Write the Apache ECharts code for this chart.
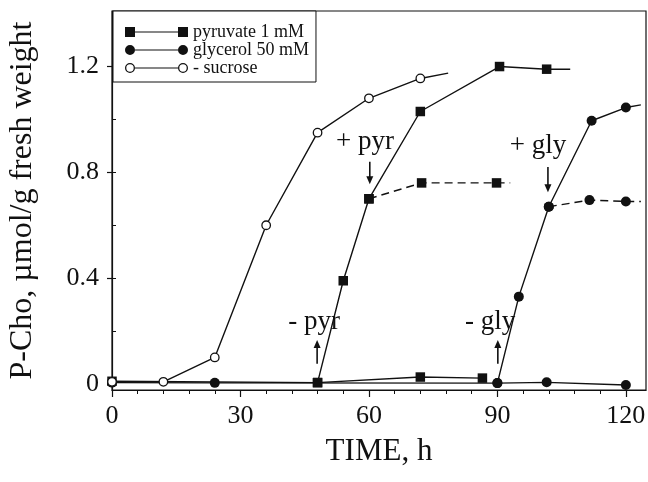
<!DOCTYPE html>
<html>
<head>
<meta charset="utf-8">
<script src="https://cdn.jsdelivr.net/npm/echarts@6/dist/echarts.min.js"></script>
<style>
  html, body { margin: 0; background: #fff; }
  #main { width: 648px; height: 482px; }
</style>
</head>
<body>
<div id="main"></div>
<script>
// ticks
const timeTicks = [0, 30, 60, 90, 120]
const timeMinorTicks = [6, 12, 18, 24, 36, 42, 48, 54, 66, 72, 78, 84, 96, 102, 108, 114]
const pchoTicks = [0, 0.4, 0.8, 1.2]
const pchoMinorTicks = [0.2, 0.4, 0.6, 0.8, 1.0, 1.2]

// series values [time h, P-Cho]
const sucrose = [[0, 0.008], [12, 0.008], [24, 0.10], [36, 0.60], [48, 0.95], [60, 1.08], [72, 1.155]]
const sucroseTail = [78.5, 1.175]
const pyrBase = [[0, 0.01], [48, 0.005], [72, 0.026], [86.5, 0.022]]
const pyrRise = [[48, 0.005], [54, 0.39], [60, 0.70], [72, 1.03], [90.5, 1.20], [101.5, 1.19]]
const pyrRiseTail = [107, 1.19]
const pyrOff = [[60, 0.70], [72.3, 0.76], [89.8, 0.76]]
const pyrOffTail = [93, 0.76]
const glyBase = [[0, 0.005], [24, 0.004], [90, 0.003], [101.5, 0.006], [120, -0.004]]
const glyRise = [[90, 0.003], [95, 0.33], [102, 0.67], [112, 0.995], [120, 1.045]]
const glyRiseTail = [123.5, 1.055]
const glyOff = [[102, 0.67], [111.5, 0.695], [120, 0.69]]
const glyOffTail = [123.5, 0.69]

// annotations (data coords)
const notes = [
  { text: '+ pyr', t: 59.1, v: 0.915 },
  { text: '- pyr', t: 47.2, v: 0.235 },
  { text: '+ gly', t: 99.5, v: 0.90 },
  { text: '- gly', t: 88.3, v: 0.235 }
]
const arrows = [
  { t: 60.2, from: 0.84, to: 0.755 },
  { t: 47.9, from: 0.076, to: 0.166 },
  { t: 101.8, from: 0.82, to: 0.725 },
  { t: 90.1, from: 0.076, to: 0.166 }
]

const serif = '"Liberation Serif", "Times New Roman", serif'
const ink = '#111'

function withTail (pts, tail) {
  let d = pts.slice()
  if (tail) d.push({ value: tail, symbol: 'none' })
  return d
}

function line (name, data, symbol, opts) {
  opts = opts || {}
  return {
    name: name,
    type: 'line',
    data: data,
    symbol: symbol,
    symbolSize: opts.size || 10,
    showSymbol: true,
    animation: false,
    z: opts.z || 2,
    lineStyle: { color: ink, width: 1.4, type: opts.dashed ? [8, 5] : 'solid' },
    itemStyle: opts.open
      ? { color: '#fff', borderColor: ink, borderWidth: 1.3 }
      : { color: ink, borderWidth: 0 }
  }
}

// legend icons: marker - line - marker
const iconSquare = 'path://M0 0h10v10H0z M10 4.4h43v1.2H10z M53 0h10v10H53z'
const iconDot = 'path://M0 5a5 5 0 1 0 10 0a5 5 0 1 0 -10 0z M10 4.4h43v1.2H10z M53 5a5 5 0 1 0 10 0a5 5 0 1 0 -10 0z'
const iconRing = 'path://M0 5a5 5 0 1 0 10 0a5 5 0 1 0 -10 0z M1.3 5a3.7 3.7 0 1 1 7.4 0a3.7 3.7 0 1 1 -7.4 0z M10 4.4h43v1.2H10z M53 5a5 5 0 1 0 10 0a5 5 0 1 0 -10 0z M54.3 5a3.7 3.7 0 1 1 7.4 0a3.7 3.7 0 1 1 -7.4 0z'

let chart = echarts.init(document.getElementById('main'), null, { renderer: 'canvas' })

let axisFont = { fontFamily: serif, fontSize: 26, color: ink }

let option = {
  backgroundColor: '#fff',
  animation: false,
  grid: {
    left: 112, right: 2, top: 11, bottom: 92,
    outerBoundsMode: 'none',
    containLabel: false,
    show: true, borderColor: ink, borderWidth: 1.2, backgroundColor: 'transparent'
  },
  legend: {
    orient: 'vertical',
    left: 113,
    top: 11,
    padding: [12, 7, 5, 12],
    itemWidth: 63,
    itemHeight: 10,
    itemGap: 0,
    borderColor: ink,
    borderWidth: 1,
    backgroundColor: '#fff',
    selectedMode: false,
    textStyle: { fontFamily: serif, fontSize: 18, color: ink },
    data: [
      { name: 'pyruvate 1 mM', icon: iconSquare, itemStyle: { color: ink, borderWidth: 0 } },
      { name: 'glycerol 50 mM', icon: iconDot, itemStyle: { color: ink, borderWidth: 0 } },
      { name: '- sucrose', icon: iconRing, itemStyle: { color: ink, borderWidth: 0 } }
    ]
  },
  xAxis: [{
    type: 'value',
    min: 0,
    max: 124.7,
    name: 'TIME, h',
    nameLocation: 'middle',
    nameGap: 46,
    nameTextStyle: { fontFamily: serif, fontSize: 31, color: ink },
    axisLine: { onZero: false, lineStyle: { color: ink, width: 1.2 } },
    axisTick: { customValues: timeTicks, length: 7, lineStyle: { color: ink, width: 1.2 } },
    axisLabel: Object.assign({ customValues: timeTicks, margin: 13 }, axisFont),
    splitLine: { show: false }
  }, {
    type: 'value',
    min: 0,
    max: 124.7,
    position: 'bottom',
    axisLine: { show: false, onZero: false },
    axisTick: { customValues: timeMinorTicks, length: 4, lineStyle: { color: ink, width: 1 } },
    axisLabel: { show: false },
    splitLine: { show: false }
  }],
  yAxis: [{
    type: 'value',
    min: -0.023,
    max: 1.41,
    name: 'P-Cho, µmol/g fresh weight',
    nameLocation: 'middle',
    nameGap: 65,
    nameTextStyle: { fontFamily: serif, fontSize: 32, color: ink, padding: [0, 0, 8, 0] },
    axisLine: { onZero: false, lineStyle: { color: ink, width: 1.2 } },
    axisTick: { customValues: pchoTicks, length: 5, lineStyle: { color: ink, width: 1.2 } },
    axisLabel: Object.assign({ customValues: pchoTicks, margin: 13,
      formatter: function (v) { return String(Math.round(v * 10) / 10) } }, axisFont),
    splitLine: { show: false }
  }, {
    type: 'value',
    min: -0.023,
    max: 1.41,
    position: 'left',
    axisLine: { show: false, onZero: false },
    axisTick: { inside: true, customValues: pchoMinorTicks, length: 4, lineStyle: { color: ink, width: 1 } },
    axisLabel: { show: false },
    splitLine: { show: false }
  }],
  series: [
    line('glycerol 50 mM', glyBase, 'circle', { size: 10 }),
    line('pyruvate 1 mM', pyrBase, 'rect', { size: 9.5 }),
    line('pyruvate 1 mM', withTail(pyrRise, pyrRiseTail), 'rect', { size: 9.5 }),
    line('pyruvate 1 mM', withTail(pyrOff, pyrOffTail), 'rect', { size: 9.5, dashed: true }),
    line('glycerol 50 mM', withTail(glyRise, glyRiseTail), 'circle', { size: 10 }),
    line('glycerol 50 mM', withTail(glyOff, glyOffTail), 'circle', { size: 10, dashed: true }),
    line('- sucrose', withTail(sucrose, sucroseTail), 'circle', { size: 8.5, open: true, z: 3 })
  ]
}

chart.setOption(option)

// text and arrows placed from data coordinates
let graphics = []
notes.forEach(function (n) {
  let p = chart.convertToPixel({ xAxisIndex: 0, yAxisIndex: 0 }, [n.t, n.v])
  graphics.push({
    type: 'text', x: p[0], y: p[1], z: 10,
    style: { text: n.text, fontFamily: serif, fontSize: 27, fill: ink, align: 'center', verticalAlign: 'middle' }
  })
})
arrows.forEach(function (a) {
  let p0 = chart.convertToPixel({ xAxisIndex: 0, yAxisIndex: 0 }, [a.t, a.from])
  let p1 = chart.convertToPixel({ xAxisIndex: 0, yAxisIndex: 0 }, [a.t, a.to])
  let dir = p1[1] > p0[1] ? 1 : -1
  graphics.push({
    type: 'line', z: 10,
    shape: { x1: p0[0], y1: p0[1], x2: p1[0], y2: p1[1] - dir * 6 },
    style: { stroke: ink, lineWidth: 1.6 }
  })
  graphics.push({
    type: 'polygon', z: 10,
    shape: { points: [[p1[0] - 3.5, p1[1] - dir * 8], [p1[0] + 3.5, p1[1] - dir * 8], [p1[0], p1[1]]] },
    style: { fill: ink }
  })
})
chart.setOption({ graphic: graphics })

window.addEventListener('resize', function () {
  chart.resize()
})
</script>
</body>
</html>
